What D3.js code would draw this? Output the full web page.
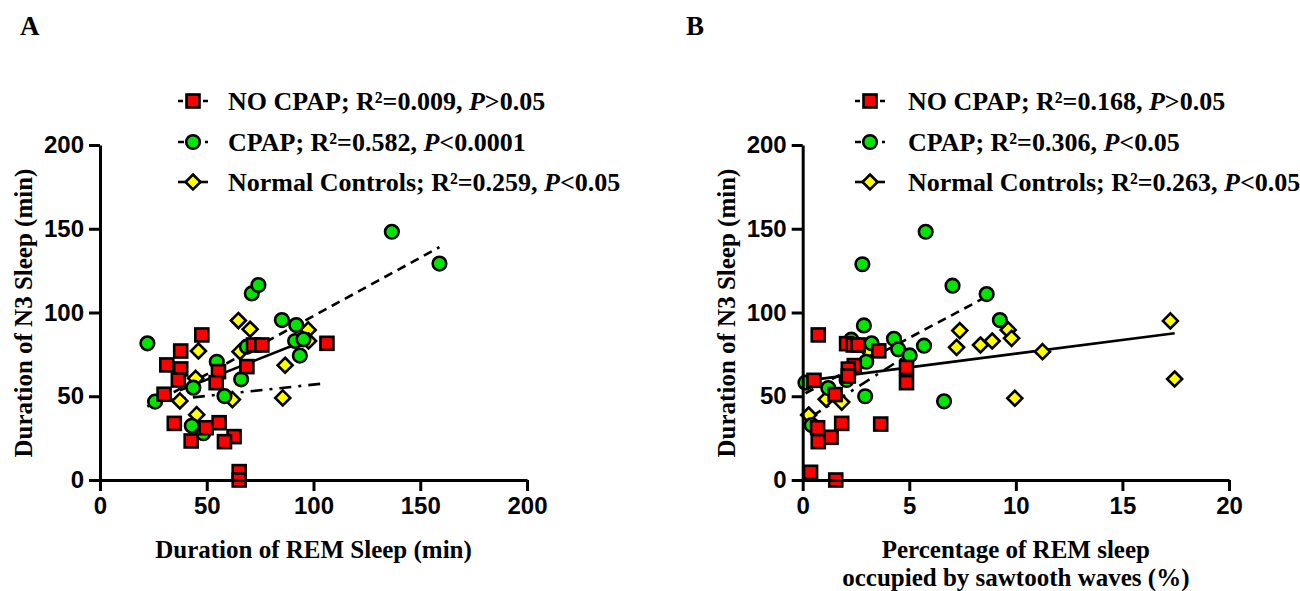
<!DOCTYPE html>
<html>
<head>
<meta charset="utf-8">
<script src="https://cdn.jsdelivr.net/npm/d3@7"></script>
<style>
  body { margin: 0; background: #fff; }
  svg { display: block; }
  .axis path, .axis line { stroke: #000; stroke-width: 3px; }
  .axis text { font-family: "Liberation Sans", Arial, sans-serif; font-weight: bold; font-size: 24px; fill: #000; }
  .title { font-family: "Liberation Serif", "Times New Roman", serif; font-weight: bold; font-size: 25px; fill: #000; }
  .legend { font-family: "Liberation Serif", "Times New Roman", serif; font-weight: bold; font-size: 26px; fill: #000; }
</style>
</head>
<body>
<svg class="chart"></svg>
<script>
// Panel A: N3 duration vs REM duration (min)
var noCpapAx = [47.7, 37.8, 31.3, 37.8, 36.7, 30.0, 55.5, 54.4, 68.8, 71.9, 75.8, 106.3, 34.8, 49.7, 55.8, 42.7, 62.8, 58.3, 65.2, 65.2];
var noCpapAy = [86.6, 77.0, 68.7, 66.3, 59.7, 51.2, 64.7, 58.1, 67.7, 80.6, 80.6, 81.6, 33.8, 31.2, 34.2, 23.3, 25.9, 22.9, 5.0, 0.0];
var cpapAx = [22.2, 25.8, 43.7, 54.7, 66.1, 58.3, 43.0, 48.4, 71.1, 74.2, 68.8, 85.2, 91.9, 91.4, 95.3, 93.6, 136.7, 159.0];
var cpapAy = [81.6, 46.8, 55.1, 70.6, 60.1, 50.1, 32.4, 27.9, 111.4, 116.4, 79.6, 95.5, 92.5, 83.0, 84.0, 74.3, 148.2, 129.2];
var normalAx = [64.8, 70.3, 97.5, 46.1, 65.6, 86.7, 44.8, 37.4, 62.0, 85.6, 45.3, 97.7];
var normalAy = [95.2, 90.0, 89.6, 77.0, 76.6, 68.5, 60.7, 47.2, 48.0, 49.0, 39.0, 83.0];

// Panel B: N3 duration vs % of REM with sawtooth waves
var noCpapBx = [0.73, 2.06, 2.37, 2.6, 3.57, 2.42, 2.14, 2.14, 4.87, 4.87, 0.53, 1.52, 1.83, 3.66, 0.70, 1.33, 0.73, 0.37, 1.55];
var noCpapBy = [86.6, 81.4, 80.6, 80.6, 77.1, 68.3, 66.2, 62.1, 67.2, 58.1, 59.5, 51.0, 33.8, 33.4, 31.2, 25.5, 22.9, 4.6, 0.0];
var cpapBx = [5.77, 2.80, 7.03, 8.63, 9.25, 2.87, 2.28, 3.23, 4.28, 4.48, 5.02, 5.69, 2.98, 0.13, 1.20, 2.06, 2.93, 6.63, 0.42];
var cpapBy = [148.2, 128.8, 116.0, 111.0, 95.5, 92.3, 83.8, 81.6, 84.3, 78.0, 74.4, 80.2, 70.6, 58.1, 54.9, 59.7, 50.0, 47.0, 32.8];
var normalBx = [17.25, 7.37, 9.64, 11.25, 3.08, 7.22, 8.34, 8.89, 9.8, 17.45, 1.10, 1.83, 0.28, 9.95];
var normalBy = [95.0, 89.2, 89.6, 76.6, 77.2, 79.2, 80.6, 83.0, 84.6, 60.3, 48.2, 46.5, 38.8, 48.8];

// regression lines: [x0, y0, x1, y1]
var fitsA = {noCpap: [30.0, 47.5, 106.3, 57.8], cpap: [22.2, 43.8, 159.0, 139.0], normal: [37.4, 53.5, 97.7, 84.0]};
var fitsB = {noCpap: [0.37, 37.5, 4.87, 74.2], cpap: [0.13, 51.8, 8.63, 109.5], normal: [0.28, 59.5, 17.45, 87.6]};

var legendA = [["NO CPAP; R²=0.009, ", "P", ">0.05"], ["CPAP; R²=0.582, ", "P", "<0.0001"], ["Normal Controls; R²=0.259, ", "P", "<0.05"]];
var legendB = [["NO CPAP; R²=0.168, ", "P", ">0.05"], ["CPAP; R²=0.306, ", "P", "<0.05"], ["Normal Controls; R²=0.263, ", "P", "<0.05"]];

var yTicks = [0, 50, 100, 150, 200];
var xTicksA = [0, 50, 100, 150, 200];
var xTicksB = [0, 5, 10, 15, 20];

var svg = d3.select(".chart").attr("width", 1300).attr("height", 591);

// in the plot the CPAP fit is dashed and the NO CPAP fit is dash-dot
var series = {
    noCpap: {fill: "#ff0000", shape: "square", dash: "12,7,3,7", legDash: "5,20"},
    cpap: {fill: "#00e600", shape: "circle", dash: "9,6", legDash: "6,21,3,5"},
    normal: {fill: "#ffff00", shape: "diamond", dash: null, legDash: null}
};

function marker(g, shape, fill) {
    var m;
    if (shape === "square") {
        m = g.append("rect").attr("x", -6.5).attr("y", -6.5).attr("width", 13).attr("height", 13);
    } else if (shape === "circle") {
        m = g.append("circle").attr("r", 6.8);
    } else {
        m = g.append("path").attr("d", "M0,-7.5L7.5,0L0,7.5L-7.5,0Z");
    }
    m.attr("fill", fill).attr("stroke", "#000").attr("stroke-width", 2.6);
}

function panel(p) {
    var x = d3.scaleLinear().domain(p.xDomain).range([p.left, p.right]);
    var y = d3.scaleLinear().domain([0, 200]).range([480, 145]);
    var g = svg.append("g");

    // fit lines first
    ["noCpap", "cpap", "normal"].forEach(function(k) {
        var f = p.fits[k];
        g.append("line")
            .attr("x1", x(f[0])).attr("y1", y(f[1]))
            .attr("x2", x(f[2])).attr("y2", y(f[3]))
            .attr("stroke", "#000").attr("stroke-width", 2.6)
            .attr("stroke-dasharray", series[k].dash);
    });

    // points: yellow at the bottom, red on top
    [["normal", p.normal], ["cpap", p.cpap], ["noCpap", p.noCpap]].forEach(function(s) {
        var st = series[s[0]], xs = s[1][0], ys = s[1][1];
        xs.forEach(function(v, i) {
            var pt = g.append("g").attr("transform", "translate(" + x(v) + "," + y(ys[i]) + ")");
            marker(pt, st.shape, st.fill);
        });
    });

    g.append("g").attr("class", "axis")
        .attr("transform", "translate(0,480)")
        .call(d3.axisBottom(x).tickValues(p.xTicks).tickSize(11).tickPadding(6).tickSizeOuter(0));
    g.append("g").attr("class", "axis")
        .attr("transform", "translate(" + p.left + ",0)")
        .call(d3.axisLeft(y).tickValues(yTicks).tickSize(11).tickPadding(5).tickSizeOuter(0));

    // legend
    ["noCpap", "cpap", "normal"].forEach(function(k, i) {
        var cy = [101, 142, 182][i], st = series[k];
        g.append("line").attr("x1", p.legX - 15).attr("x2", p.legX + 15)
            .attr("y1", cy).attr("y2", cy)
            .attr("stroke", "#000").attr("stroke-width", 2.6)
            .attr("stroke-dasharray", st.legDash);
        var mg = g.append("g").attr("transform", "translate(" + p.legX + "," + cy + ")");
        marker(mg, st.shape, st.fill);
        var t = g.append("text").attr("class", "legend")
            .attr("x", p.legText).attr("y", cy + 9);
        t.append("tspan").text(p.legend[i][0]);
        t.append("tspan").attr("font-style", "italic").text(p.legend[i][1]);
        t.append("tspan").text(p.legend[i][2]);
    });

    g.append("text").attr("class", "title")
        .attr("transform", "translate(" + (p.left - 68) + ",313) rotate(-90)")
        .attr("text-anchor", "middle").text("Duration of N3 Sleep (min)");
    p.xTitle.forEach(function(s, i) {
        g.append("text").attr("class", "title")
            .attr("x", (p.left + p.right) / 2).attr("y", 558 + i * 28)
            .attr("text-anchor", "middle").text(s);
    });
    g.append("text").attr("class", "title").style("font-size", "27px")
        .attr("x", p.labelX).attr("y", 35).text(p.label);
}

panel({
    xDomain: [0, 200], left: 100, right: 527, xTicks: xTicksA,
    noCpap: [noCpapAx, noCpapAy], cpap: [cpapAx, cpapAy], normal: [normalAx, normalAy],
    fits: fitsA, legend: legendA, legX: 193, legText: 228,
    xTitle: ["Duration of REM Sleep (min)"], label: "A", labelX: 20
});
panel({
    xDomain: [0, 20], left: 802.7, right: 1229, xTicks: xTicksB,
    noCpap: [noCpapBx, noCpapBy], cpap: [cpapBx, cpapBy], normal: [normalBx, normalBy],
    fits: fitsB, legend: legendB, legX: 870, legText: 908,
    xTitle: ["Percentage of REM sleep", "occupied by sawtooth waves (%)"], label: "B", labelX: 686
});
</script>
</body>
</html>
